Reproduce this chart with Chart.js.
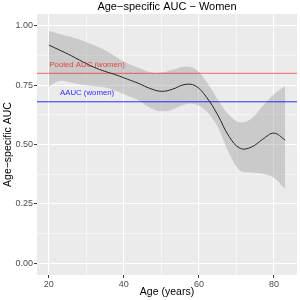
<!DOCTYPE html>
<html>
<head>
<meta charset="utf-8">
<script src="https://cdn.jsdelivr.net/npm/chart.js@4"></script>
<style>
  html, body { margin: 0; padding: 0; background: #fff; }
  #wrap { width: 300px; height: 300px; }
</style>
</head>
<body>
<div id="wrap"><canvas id="aucChart" width="300" height="300"></canvas></div>
<script>
// values
const ages  = [20, 23, 26, 29, 32, 35, 38, 41, 44, 47, 50, 53, 56, 59, 62, 65, 68, 71, 74, 77, 80, 83];
const fit   = [0.919, 0.897, 0.874, 0.849, 0.826, 0.808, 0.793, 0.775, 0.757, 0.736, 0.724, 0.733, 0.752, 0.748, 0.700, 0.625, 0.535, 0.484, 0.489, 0.522, 0.548, 0.519];
const upper = [0.979, 0.965, 0.953, 0.937, 0.918, 0.897, 0.868, 0.842, 0.822, 0.805, 0.803, 0.815, 0.827, 0.818, 0.765, 0.690, 0.625, 0.593, 0.610, 0.662, 0.712, 0.747];
const lower = [0.745, 0.768, 0.760, 0.752, 0.746, 0.740, 0.725, 0.705, 0.685, 0.655, 0.640, 0.648, 0.668, 0.670, 0.640, 0.575, 0.465, 0.390, 0.382, 0.377, 0.360, 0.312];

const pooledAUC = 0.80;
const aaucValue = 0.68;

const xTicks = [20, 30, 40, 50, 60, 70, 80];
const xLabels = [20, 40, 60, 80];
const yTicks = [0, 0.125, 0.25, 0.375, 0.5, 0.625, 0.75, 0.875, 1];
const yLabels = [0, 0.25, 0.5, 0.75, 1];

const X_MIN = 16.85, X_MAX = 86.15;
const Y_MIN = -0.05, Y_MAX = 1.05;

const FONT = "'Liberation Sans', Arial, sans-serif";

function pts(ys) {
  return ages.map((a, i) => ({ x: a, y: ys[i] }));
}
function hline(v) {
  return [{ x: X_MIN, y: v }, { x: X_MAX, y: v }];
}

const panelBg = {
  id: "panelBg",
  beforeDraw(chart) {
    const a = chart.chartArea, c = chart.ctx;
    c.save();
    c.fillStyle = "#EBEBEB";
    c.fillRect(a.left, a.top, a.right - a.left, a.bottom - a.top);
    c.restore();
  }
};

const texts = {
  id: "texts",
  afterDraw(chart) {
    const c = chart.ctx, xs = chart.scales.x, ys = chart.scales.y, a = chart.chartArea;
    c.save();
    c.textAlign = "center";
    c.textBaseline = "middle";
    c.font = "7.8px " + FONT;
    c.fillStyle = "rgba(235,40,40,0.85)";
    c.fillText("Pooled AUC (women)", xs.getPixelForValue(30.2), ys.getPixelForValue(0.834));
    c.fillStyle = "rgba(20,20,255,0.9)";
    c.fillText("AAUC (women)", xs.getPixelForValue(30.2), ys.getPixelForValue(0.716));

    c.fillStyle = "#000";
    c.font = "11px " + FONT;
    c.fillText("Age\u2212specific AUC \u2212 Women", (a.left + a.right) / 2, 7);
    c.font = "10.5px " + FONT;
    c.fillText("Age (years)", (a.left + a.right) / 2, 292);
    c.translate(8, (a.top + a.bottom) / 2);
    c.rotate(-Math.PI / 2);
    c.fillText("Age\u2212specific AUC", 0, 0);
    c.restore();
  }
};

const ctx = document.getElementById("aucChart").getContext("2d");

const aucChart = new Chart(ctx, {
  type: "line",
  data: {
    datasets: [
      { data: pts(fit), borderColor: "#262626", borderWidth: 1, pointRadius: 0,
        tension: 0.4, fill: false },
      { data: hline(pooledAUC), borderColor: "rgba(255,0,0,0.45)", borderWidth: 1.2, pointRadius: 0, fill: false },
      { data: hline(aaucValue), borderColor: "rgba(0,0,255,0.8)", borderWidth: 1, pointRadius: 0, fill: false },
      { data: pts(upper), borderWidth: 0, borderColor: "transparent", pointRadius: 0,
        tension: 0.4, fill: { target: 4 }, backgroundColor: "rgba(153,153,153,0.4)" },
      { data: pts(lower), borderWidth: 0, borderColor: "transparent", pointRadius: 0,
        tension: 0.4, fill: false }
    ]
  },
  options: {
    responsive: false,
    animation: false,
    layout: { padding: { top: 14, right: 3, left: 0, bottom: 0 } },
    plugins: { legend: { display: false }, tooltip: { enabled: false }, title: { display: false } },
    scales: {
      x: {
        type: "linear", min: X_MIN, max: X_MAX,
        afterBuildTicks(s) { s.ticks = xTicks.map(v => ({ value: v })); },
        afterFit(s) { s.height = 25; },
        border: { display: false },
        grid: {
          color: "#FFFFFF",
          lineWidth: c => (xLabels.includes(c.tick && c.tick.value) ? 1.1 : 0.5),
          drawTicks: true, tickLength: 3,
          tickColor: c => (xLabels.includes(c.tick && c.tick.value) ? "#333333" : "rgba(0,0,0,0)"),
          tickWidth: 1
        },
        ticks: {
          autoSkip: false, maxRotation: 0, padding: 1,
          color: "#4D4D4D", font: { size: 9, family: FONT },
          callback: v => (xLabels.includes(v) ? String(v) : "")
        }
      },
      y: {
        type: "linear", min: Y_MIN, max: Y_MAX,
        afterBuildTicks(s) { s.ticks = yTicks.map(v => ({ value: v })); },
        afterFit(s) { s.width = 37; },
        border: { display: false },
        grid: {
          color: "#FFFFFF",
          lineWidth: c => (yLabels.includes(c.tick && c.tick.value) ? 1.1 : 0.5),
          drawTicks: true, tickLength: 3,
          tickColor: c => (yLabels.includes(c.tick && c.tick.value) ? "#333333" : "rgba(0,0,0,0)"),
          tickWidth: 1
        },
        ticks: {
          autoSkip: false, padding: 1,
          color: "#4D4D4D", font: { size: 9, family: FONT },
          callback: v => (yLabels.includes(v) ? v.toFixed(2) : "")
        }
      }
    }
  },
  plugins: [panelBg, texts]
});
</script>
</body>
</html>
